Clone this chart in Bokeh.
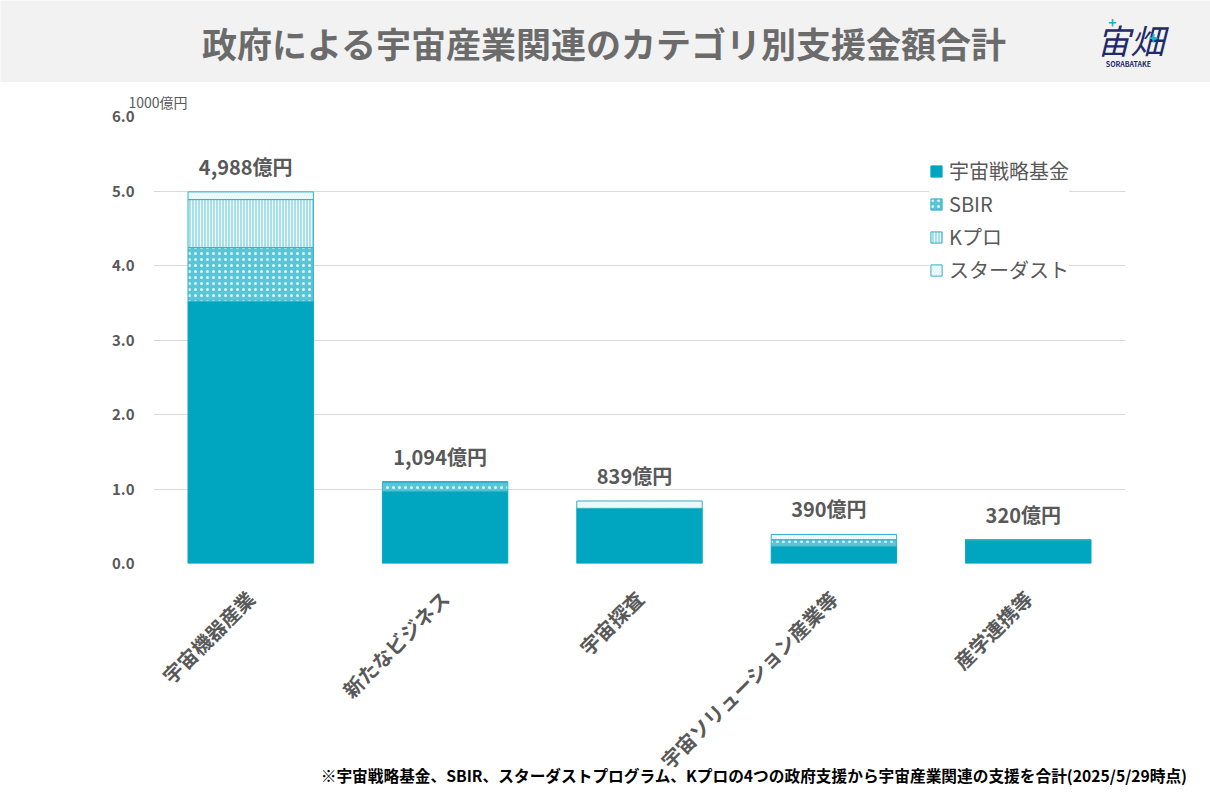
from bokeh.plotting import figure
from bokeh.layouts import column, row
from bokeh.models import (ColumnDataSource, FactorRange, Range1d, FixedTicker,
                          PrintfTickFormatter, Label, Legend, Title)
from bokeh.core.properties import value
from bokeh.embed import file_html
from bokeh.resources import INLINE

FONT = "Noto Sans CJK JP"
GRAY = "#595959"

# data (単位: 1000億円)
categories = ["宇宙機器産業", "新たなビジネス", "宇宙探査", "宇宙ソリューション産業等", "産学連携等"]
fund = [3.52, 0.97, 0.74, 0.23, 0.32]        # 宇宙戦略基金
sbir = [0.72, 0.124, 0.0, 0.09, 0.0]         # SBIR
kpro = [0.645, 0.0, 0.0, 0.0, 0.0]           # Kプロ
stardust = [0.103, 0.0, 0.099, 0.07, 0.0]    # スターダスト
totals = [4.988, 1.094, 0.839, 0.390, 0.320]
total_labels = ["4,988億円", "1,094億円", "839億円", "390億円", "320億円"]
series = ["宇宙戦略基金", "SBIR", "Kプロ", "スターダスト"]
y_ticks = [0, 1, 2, 3, 4, 5, 6]

src = ColumnDataSource(data=dict(cat=categories, fund=fund, sbir=sbir, kpro=kpro,
                                 stardust=stardust, total=totals, label=total_labels))

W = 1210
LEFT, RIGHT = 153, 85


def blank_fig(height, bg, **kw):
    f = figure(width=W, height=height, x_range=Range1d(0, W), y_range=Range1d(0, height),
               toolbar_location=None, output_backend="svg", min_border=0, **kw)
    f.axis.visible = False
    f.grid.visible = False
    f.outline_line_color = None
    if bg is None:
        f.background_fill_alpha = 0
        f.border_fill_alpha = 0
    else:
        f.background_fill_color = bg
        f.border_fill_color = bg
    return f


# ---- header band ----
h = blank_fig(82, "#f2f2f2")
h.add_layout(Label(x=604, y=40, text="政府による宇宙産業関連のカテゴリ別支援金額合計",
                   text_font=FONT, text_font_size="35px", text_font_style="bold",
                   text_color="#6b6b6b", text_align="center", text_baseline="middle"))
h.add_layout(Label(x=1130, y=43, text="宙畑", text_font=FONT, text_font_size="34px",
                   text_font_style="italic", text_color="#1f2a6b",
                   text_align="center", text_baseline="middle"))
h.add_layout(Label(x=1128, y=19, text="SORABATAKE", text_font=FONT, text_font_size="7px",
                   text_font_style="bold", text_color="#1f2a6b",
                   text_align="center", text_baseline="middle"))
h.add_layout(Label(x=1112, y=60, text="+", text_font=FONT, text_font_size="14px",
                   text_font_style="bold", text_color="#19b3c8",
                   text_align="center", text_baseline="middle"))
h.add_layout(Label(x=1153, y=45, text="+", text_font=FONT, text_font_size="16px",
                   text_font_style="bold", text_color="#19b3c8",
                   text_align="center", text_baseline="middle"))

# ---- main chart ----
p = figure(width=W, height=723, x_range=FactorRange(*categories), y_range=Range1d(0, 6),
           toolbar_location=None, output_backend="svg",
           min_border_left=LEFT, min_border_right=RIGHT, min_border_top=34, min_border_bottom=242)
p.outline_line_color = None

renderers = p.vbar_stack(["fund", "sbir", "kpro", "stardust"], x="cat", width=0.645, source=src,
                         fill_color=["#00a6bf", "#5ac5d6", "#a8dfe8", "#e2f5f8"],
                         line_color=["#00a6bf", "#2fb1c6", "#2fb1c6", "#2fb1c6"],
                         line_width=1,
                         hatch_pattern=[" ", "dot", "vertical_line", "right_diagonal_line"],
                         hatch_color="white", hatch_alpha=0.8,
                         hatch_scale=[4, 6, 3, 5], hatch_weight=[1, 1, 1, 1])

p.text(x="cat", y="total", text="label", source=src, text_font=value(FONT),
       text_font_size="20px", text_font_style="bold", text_color=GRAY,
       text_align="center", text_baseline="bottom", y_offset=-11, x_offset=-5)

legend = Legend(items=[(s, [r]) for s, r in zip(series, renderers)],
                location=(776, 279), label_text_font=FONT, label_text_font_size="20px",
                label_text_color=GRAY, glyph_width=14, glyph_height=14,
                label_height=28, spacing=4, padding=6, margin=0,
                border_line_color=None, background_fill_color="white",
                background_fill_alpha=1.0, label_standoff=6)
p.add_layout(legend)

p.xgrid.grid_line_color = None
p.ygrid.grid_line_color = "#d9d9d9"
p.ygrid.ticker = FixedTicker(ticks=y_ticks)

p.yaxis.ticker = FixedTicker(ticks=y_ticks)
p.yaxis.formatter = PrintfTickFormatter(format="%.1f")
p.yaxis.axis_line_color = None
p.yaxis.major_tick_line_color = None
p.yaxis.minor_tick_line_color = None
p.yaxis.major_label_standoff = 13
p.yaxis.major_label_text_font = FONT
p.yaxis.major_label_text_font_size = "15px"
p.yaxis.major_label_text_font_style = "bold"
p.yaxis.major_label_text_color = GRAY

p.xaxis.axis_line_color = None
p.xaxis.major_tick_line_color = None
p.xaxis.minor_tick_line_color = None
p.xaxis.major_label_orientation = 0.785398
p.xaxis.major_label_standoff = 25
p.xaxis.major_label_text_font = FONT
p.xaxis.major_label_text_font_size = "20px"
p.xaxis.major_label_text_font_style = "bold"
p.xaxis.major_label_text_color = GRAY

p.add_layout(Title(text="1000億円", align="left", offset=-25, standoff=9,
                   text_font=FONT, text_font_size="14px", text_font_style="normal",
                   text_color=GRAY), "above")

# ---- footnote, laid over the bottom of the chart ----
foot = blank_fig(40, None, margin=(-40, 0, 0, 0))
foot.add_layout(Label(x=1187, y=30, text="※宇宙戦略基金、SBIR、スターダストプログラム、Kプロの4つの政府支援から宇宙産業関連の支援を合計(2025/5/29時点)",
                      text_font=FONT, text_font_size="15.7px", text_font_style="bold",
                      text_color="black", text_align="right", text_baseline="middle"))

layout = column(h, row(p), foot, spacing=0)
open("out.html", "w").write(file_html(layout, INLINE))
